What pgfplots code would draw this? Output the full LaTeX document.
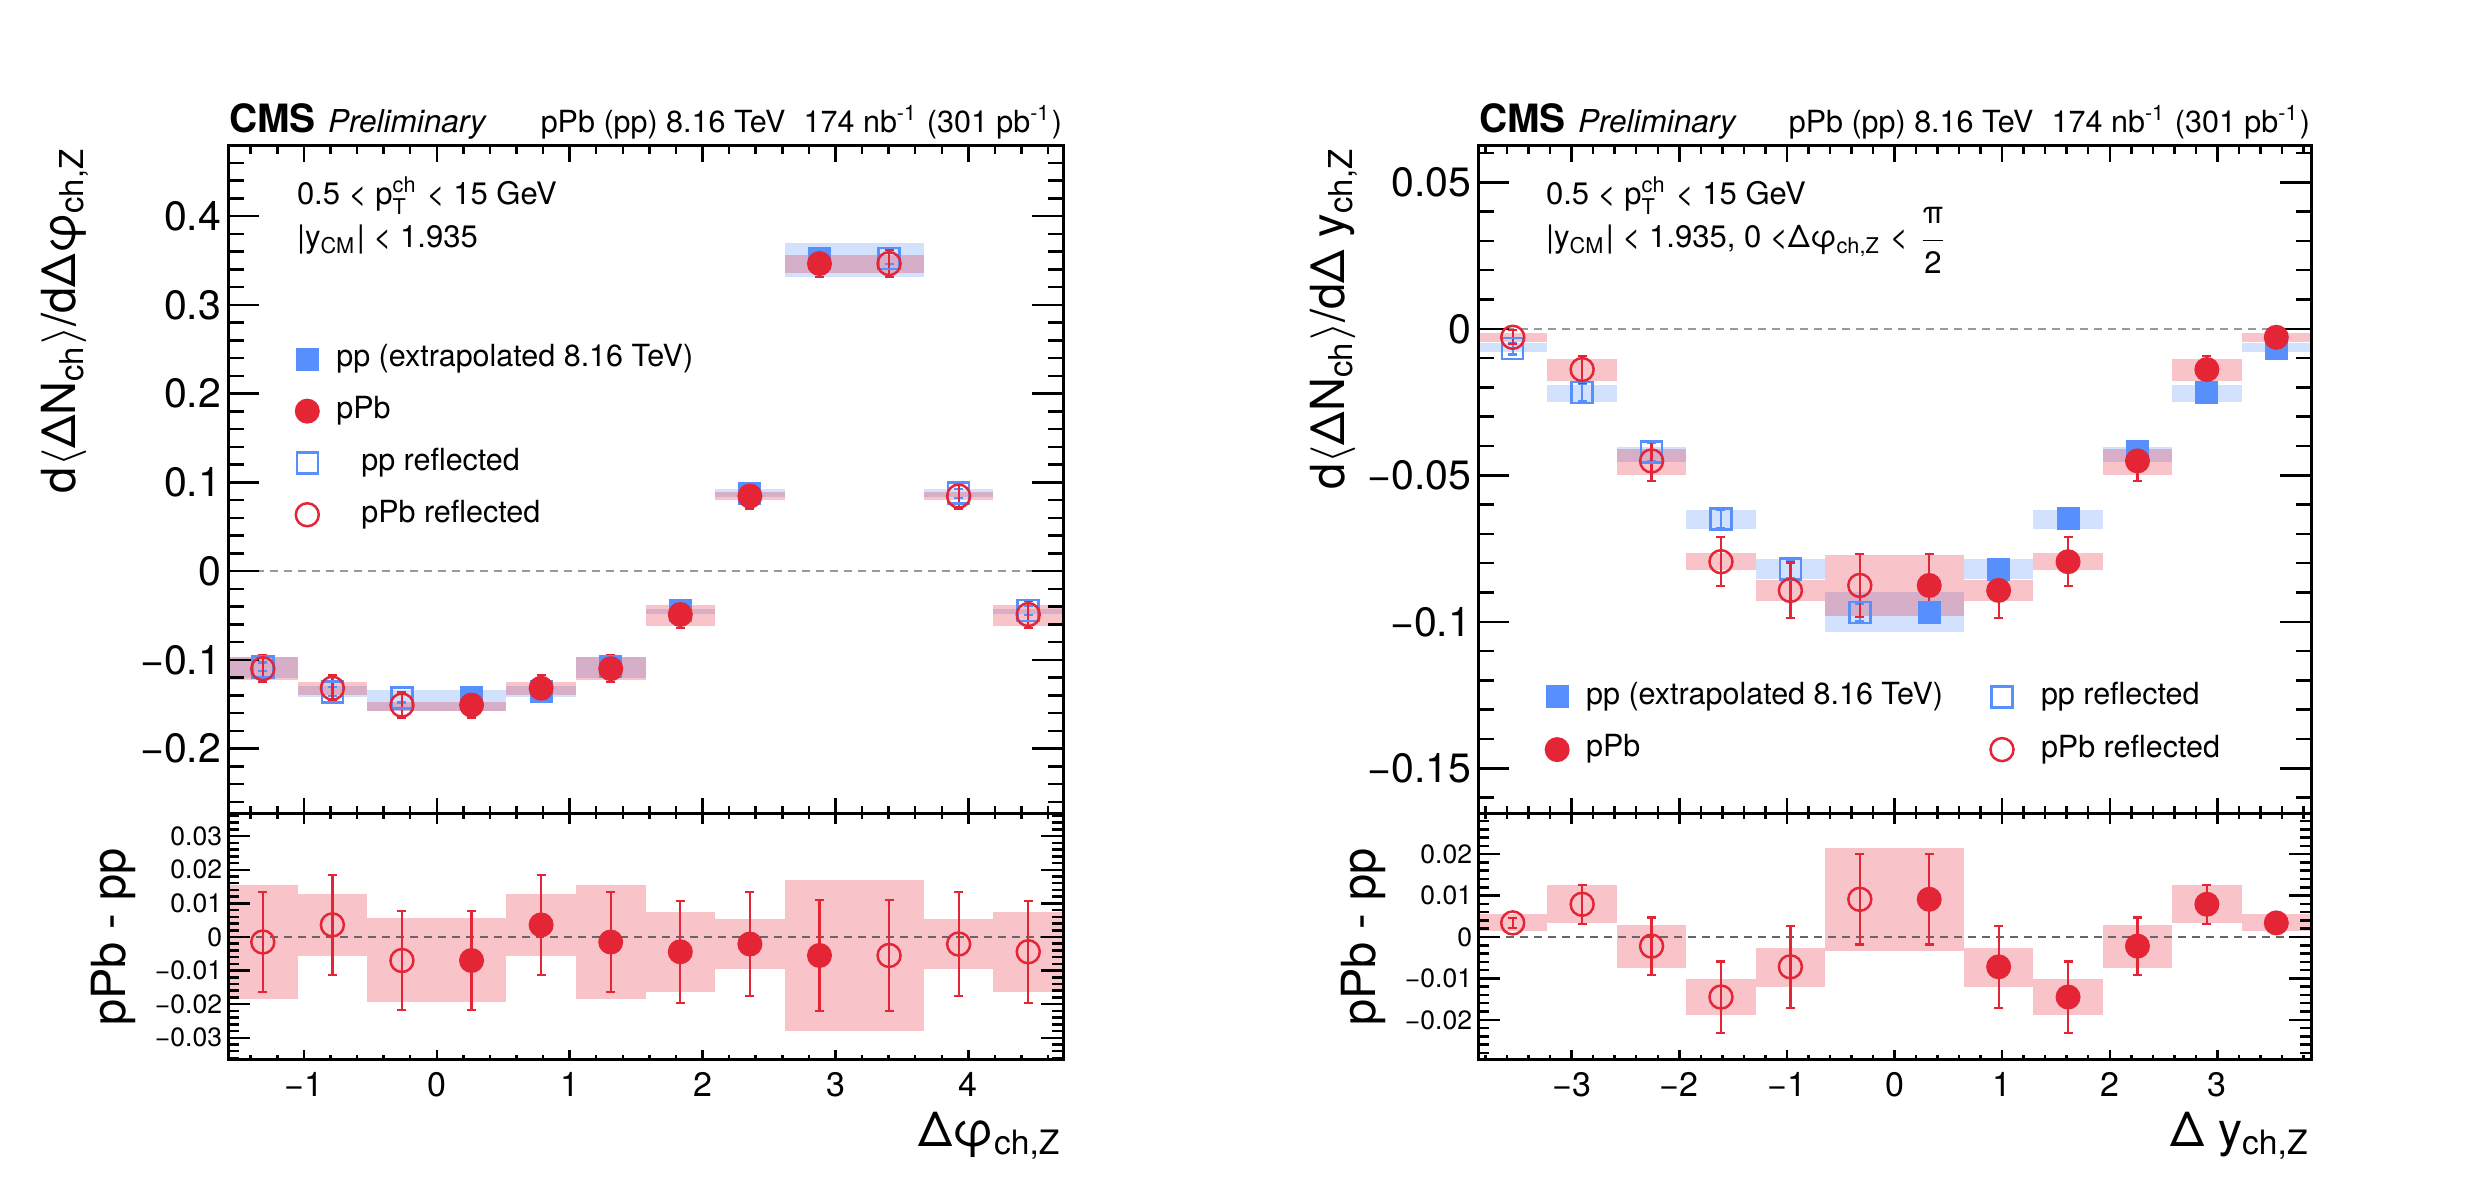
\documentclass[border=0pt]{standalone}
\usepackage{fontspec}
\setmainfont{TeX Gyre Heros}
\usepackage{amsmath}
\usepackage{pgfplots}
\pgfplotsset{compat=1.18}
\definecolor{ppblue}{HTML}{5790FC}
\definecolor{pbred}{HTML}{E42536}
\newcommand{\fs}[1]{\fontsize{#1}{#1}\selectfont}
\newcommand{\sysb}[5]{\addplot[forget plot, draw=none, fill=#1, fill opacity=0.27] coordinates {(#2,#4) (#3,#4) (#3,#5) (#2,#5)};}
\pgfplotsset{
  cms/.style={scale only axis, axis on top, tick align=inside,
    axis line style={line width=0.6pt}, tick style={black, line width=0.5pt},
    xtick pos=both, ytick pos=both, clip=true, scaled y ticks=false, scaled x ticks=false},
  ebar/.style={error bars/.cd, y dir=both, y explicit,
    error bar style={line width=0.45pt},
    error mark options={rotate=90, mark size=0.9pt, line width=0.45pt}},
  ppf/.style={only marks, mark=square*, mark size=2.1pt, color=ppblue, ebar},
  ppo/.style={only marks, mark=square, mark size=2.1pt, color=ppblue, mark options={line width=0.5pt}, ebar},
  pbf/.style={only marks, mark=*, mark size=2.3pt, color=pbred, ebar},
  pbo/.style={only marks, mark=o, mark size=2.3pt, color=pbred, mark options={line width=0.5pt}, ebar},
  limg/.style={legend image code/.code={\draw[##1] plot coordinates {(0pt,0pt)};}},
}
\begin{document}
\begin{tikzpicture}
\path[use as bounding box] (0,0) rectangle (497pt,237pt);

% ---------------- left top ----------------
\begin{axis}[cms, limg, at={(45.6pt,74.2pt)}, anchor=south west, width=167pt, height=133.6pt,
  xmin=-1.5708, xmax=4.7124, ymin=-0.2737, ymax=0.479,
  xtick={-1,0,1,2,3,4}, xticklabels=\empty, minor xtick={-1.4,-1.2,...,4.61},
  ytick={-0.2,-0.1,0,0.1,0.2,0.3,0.4}, yticklabels={−0.2,−0.1,0,0.1,0.2,0.3,0.4},
  minor ytick={-0.26,-0.24,...,0.47},
  major tick length=6.2pt, minor tick length=3.1pt,
  xtick style={/pgfplots/major tick length=3.2pt,/pgfplots/minor tick length=1.6pt},
  yticklabel style={font=\fs{8.2}, inner sep=0pt, xshift=-1.2pt},
  legend style={at={(0.080,0.708)}, anchor=north west, draw=none, fill=none, inner sep=0pt,
    font=\fs{6.1}, row sep=3.4pt, column sep=3pt, nodes={inner sep=0.5pt}},
  legend cell align=left]
\addplot[forget plot, color=black!40, line width=0.35pt, dash pattern=on 1.6pt off 1.2pt] coordinates {(-1.5708,0) (4.7124,0)};
\sysb{ppblue}{-1.5708}{-1.0472}{-0.121}{-0.0967}
\sysb{ppblue}{-1.0472}{-0.5236}{-0.142}{-0.1295}
\sysb{ppblue}{-0.5236}{0}{-0.158}{-0.134}
\sysb{ppblue}{0}{0.5236}{-0.158}{-0.134}
\sysb{ppblue}{0.5236}{1.0472}{-0.142}{-0.1295}
\sysb{ppblue}{1.0472}{1.5708}{-0.121}{-0.0967}
\sysb{ppblue}{1.5708}{2.0944}{-0.048}{-0.043}
\sysb{ppblue}{2.0944}{2.6180}{0.083}{0.0925}
\sysb{ppblue}{2.6180}{3.1416}{0.331}{0.370}
\sysb{ppblue}{3.1416}{3.6652}{0.331}{0.370}
\sysb{ppblue}{3.6652}{4.1888}{0.083}{0.0925}
\sysb{ppblue}{4.1888}{4.7124}{-0.048}{-0.043}
\sysb{pbred}{-1.5708}{-1.0472}{-0.123}{-0.0967}
\sysb{pbred}{-1.0472}{-0.5236}{-0.140}{-0.125}
\sysb{pbred}{-0.5236}{0}{-0.158}{-0.147}
\sysb{pbred}{0}{0.5236}{-0.158}{-0.147}
\sysb{pbred}{0.5236}{1.0472}{-0.140}{-0.125}
\sysb{pbred}{1.0472}{1.5708}{-0.123}{-0.0967}
\sysb{pbred}{1.5708}{2.0944}{-0.0616}{-0.038}
\sysb{pbred}{2.0944}{2.6180}{0.080}{0.0893}
\sysb{pbred}{2.6180}{3.1416}{0.336}{0.3565}
\sysb{pbred}{3.1416}{3.6652}{0.336}{0.3565}
\sysb{pbred}{3.6652}{4.1888}{0.080}{0.0893}
\sysb{pbred}{4.1888}{4.7124}{-0.0616}{-0.038}
\addplot[ppf] coordinates {(0.2618,-0.143) +- (0,0.005) (0.7854,-0.136) +- (0,0.005) (1.3090,-0.108) +- (0,0.005) (1.8326,-0.0445) +- (0,0.005) (2.3562,0.0877) +- (0,0.005) (2.8798,0.352) +- (0,0.006)};
\addlegendentry{pp (extrapolated 8.16 TeV)}
\addplot[pbf] coordinates {(0.2618,-0.151) +- (0,0.0148) (0.7854,-0.132) +- (0,0.0148) (1.3090,-0.110) +- (0,0.0148) (1.8326,-0.049) +- (0,0.015) (2.3562,0.0845) +- (0,0.0145) (2.8798,0.3465) +- (0,0.0149)};
\addlegendentry{pPb}
\addplot[ppo] coordinates {(-1.3090,-0.108) +- (0,0.005) (-0.7854,-0.136) +- (0,0.005) (-0.2618,-0.143) +- (0,0.005) (3.4034,0.352) +- (0,0.006) (3.9270,0.0877) +- (0,0.005) (4.4506,-0.0445) +- (0,0.005)};
\addlegendentry{\hspace{5pt}pp reflected}
\addplot[pbo] coordinates {(-1.3090,-0.110) +- (0,0.0148) (-0.7854,-0.132) +- (0,0.0148) (-0.2618,-0.151) +- (0,0.0148) (3.4034,0.3465) +- (0,0.0149) (3.9270,0.0845) +- (0,0.0145) (4.4506,-0.049) +- (0,0.015)};
\addlegendentry{\hspace{5pt}pPb reflected}
\end{axis}

% ---------------- left bottom ----------------
\begin{axis}[cms, at={(45.6pt,25pt)}, anchor=south west, width=167pt, height=49.2pt,
  xmin=-1.5708, xmax=4.7124, ymin=-0.0366, ymax=0.0366,
  xtick={-1,0,1,2,3,4}, xticklabels={−1,0,1,2,3,4}, minor xtick={-1.4,-1.2,...,4.61},
  ytick={-0.03,-0.02,-0.01,0,0.01,0.02,0.03}, yticklabels={−0.03,−0.02,−0.01,0,0.01,0.02,0.03},
  minor ytick={-0.036,-0.034,...,0.0361},
  major tick length=4.4pt, minor tick length=2.2pt,
  xtick style={/pgfplots/major tick length=2pt,/pgfplots/minor tick length=1pt},
  yticklabel style={font=\fs{5.3}, inner sep=0pt, xshift=-1pt},
  xticklabel style={font=\fs{6.8}, inner sep=0pt, yshift=-2.2pt}]
\sysb{pbred}{-1.5708}{-1.0472}{-0.0186}{0.0154}
\sysb{pbred}{-1.0472}{-0.5236}{-0.0057}{0.0127}
\sysb{pbred}{-0.5236}{0}{-0.0192}{0.0057}
\sysb{pbred}{0}{0.5236}{-0.0192}{0.0057}
\sysb{pbred}{0.5236}{1.0472}{-0.0057}{0.0127}
\sysb{pbred}{1.0472}{1.5708}{-0.0186}{0.0154}
\sysb{pbred}{1.5708}{2.0944}{-0.0163}{0.0074}
\sysb{pbred}{2.0944}{2.6180}{-0.0095}{0.0053}
\sysb{pbred}{2.6180}{3.1416}{-0.0281}{0.0169}
\sysb{pbred}{3.1416}{3.6652}{-0.0281}{0.0169}
\sysb{pbred}{3.6652}{4.1888}{-0.0095}{0.0053}
\sysb{pbred}{4.1888}{4.7124}{-0.0163}{0.0074}
\addplot[forget plot, color=black!60, line width=0.45pt, dash pattern=on 1.6pt off 1.2pt] coordinates {(-1.5708,0) (4.7124,0)};
\addplot[pbf] coordinates {(0.2618,-0.007) +- (0,0.0148) (0.7854,0.0036) +- (0,0.0149) (1.3090,-0.0015) +- (0,0.0148) (1.8326,-0.0044) +- (0,0.0152) (2.3562,-0.0021) +- (0,0.0154) (2.8798,-0.0055) +- (0,0.0166)};
\addplot[pbo] coordinates {(-1.3090,-0.0015) +- (0,0.0148) (-0.7854,0.0036) +- (0,0.0149) (-0.2618,-0.007) +- (0,0.0148) (3.4034,-0.0055) +- (0,0.0166) (3.9270,-0.0021) +- (0,0.0154) (4.4506,-0.0044) +- (0,0.0152)};
\end{axis}

% ---------------- right top ----------------
\begin{axis}[cms, limg, at={(295.6pt,74.2pt)}, anchor=south west, width=166.6pt, height=133.6pt,
  xmin=-3.87, xmax=3.87, ymin=-0.1656, ymax=0.0624,
  xtick={-3,-2,-1,0,1,2,3}, xticklabels=\empty, minor xtick={-3.8,-3.6,...,3.81},
  ytick={-0.15,-0.1,-0.05,0,0.05}, yticklabels={−0.15,−0.1,−0.05,0,0.05},
  minor ytick={-0.16,-0.15,...,0.061},
  major tick length=6.2pt, minor tick length=3.1pt,
  xtick style={/pgfplots/major tick length=3.2pt,/pgfplots/minor tick length=1.6pt},
  yticklabel style={font=\fs{8.2}, inner sep=0pt, xshift=-1.2pt},
  legend columns=2,
  legend style={at={(0.080,0.203)}, anchor=north west, draw=none, fill=none, inner sep=0pt,
    font=\fs{6.1}, row sep=3.6pt, column sep=3pt, nodes={inner sep=0.5pt},
    /tikz/every even column/.append style={column sep=9pt}},
  legend cell align=left]
\addplot[forget plot, color=black!40, line width=0.35pt, dash pattern=on 1.6pt off 1.2pt] coordinates {(-3.87,0) (3.87,0)};
\sysb{ppblue}{-3.87}{-3.225}{-0.0078}{-0.0049}
\sysb{ppblue}{-3.225}{-2.58}{-0.0249}{-0.0193}
\sysb{ppblue}{-2.58}{-1.935}{-0.0454}{-0.0405}
\sysb{ppblue}{-1.935}{-1.29}{-0.0685}{-0.0617}
\sysb{ppblue}{-1.29}{-0.645}{-0.0854}{-0.0785}
\sysb{ppblue}{-0.645}{0}{-0.1034}{-0.090}
\sysb{ppblue}{0}{0.645}{-0.1034}{-0.090}
\sysb{ppblue}{0.645}{1.29}{-0.0854}{-0.0785}
\sysb{ppblue}{1.29}{1.935}{-0.0685}{-0.0617}
\sysb{ppblue}{1.935}{2.58}{-0.0454}{-0.0405}
\sysb{ppblue}{2.58}{3.225}{-0.0249}{-0.0193}
\sysb{ppblue}{3.225}{3.87}{-0.0078}{-0.0049}
\sysb{pbred}{-3.87}{-3.225}{-0.0046}{-0.0015}
\sysb{pbred}{-3.225}{-2.58}{-0.0178}{-0.0102}
\sysb{pbred}{-2.58}{-1.935}{-0.0498}{-0.041}
\sysb{pbred}{-1.935}{-1.29}{-0.0824}{-0.0766}
\sysb{pbred}{-1.29}{-0.645}{-0.0929}{-0.0859}
\sysb{pbred}{-0.645}{0}{-0.098}{-0.0771}
\sysb{pbred}{0}{0.645}{-0.098}{-0.0771}
\sysb{pbred}{0.645}{1.29}{-0.0929}{-0.0859}
\sysb{pbred}{1.29}{1.935}{-0.0824}{-0.0766}
\sysb{pbred}{1.935}{2.58}{-0.0498}{-0.041}
\sysb{pbred}{2.58}{3.225}{-0.0178}{-0.0102}
\sysb{pbred}{3.225}{3.87}{-0.0046}{-0.0015}
\addplot[ppf] coordinates {(0.3225,-0.0968) +- (0,0.003) (0.9675,-0.082) +- (0,0.003) (1.6125,-0.0649) +- (0,0.003) (2.2575,-0.042) +- (0,0.003) (2.9025,-0.0217) +- (0,0.003) (3.5475,-0.0068) +- (0,0.002)};
\addlegendentry{pp (extrapolated 8.16 TeV)}
\addplot[ppo] coordinates {(-0.3225,-0.0968) +- (0,0.003) (-0.9675,-0.082) +- (0,0.003) (-1.6125,-0.0649) +- (0,0.003) (-2.2575,-0.042) +- (0,0.003) (-2.9025,-0.0217) +- (0,0.003) (-3.5475,-0.0068) +- (0,0.002)};
\addlegendentry{\hspace{2pt}pp reflected}
\addplot[pbf] coordinates {(0.3225,-0.0876) +- (0,0.0107) (0.9675,-0.0893) +- (0,0.0095) (1.6125,-0.0795) +- (0,0.0084) (2.2575,-0.0451) +- (0,0.0068) (2.9025,-0.0139) +- (0,0.0046) (3.5475,-0.0029) +- (0,0.0024)};
\addlegendentry{pPb}
\addplot[pbo] coordinates {(-0.3225,-0.0876) +- (0,0.0107) (-0.9675,-0.0893) +- (0,0.0095) (-1.6125,-0.0795) +- (0,0.0084) (-2.2575,-0.0451) +- (0,0.0068) (-2.9025,-0.0139) +- (0,0.0046) (-3.5475,-0.0029) +- (0,0.0024)};
\addlegendentry{\hspace{2pt}pPb reflected}
\end{axis}

% ---------------- right bottom ----------------
\begin{axis}[cms, at={(295.6pt,25pt)}, anchor=south west, width=166.6pt, height=49.2pt,
  xmin=-3.87, xmax=3.87, ymin=-0.0297, ymax=0.0297,
  xtick={-3,-2,-1,0,1,2,3}, xticklabels={−3,−2,−1,0,1,2,3}, minor xtick={-3.8,-3.6,...,3.81},
  ytick={-0.02,-0.01,0,0.01,0.02}, yticklabels={−0.02,−0.01,0,0.01,0.02},
  minor ytick={-0.028,-0.026,...,0.0281},
  major tick length=4.4pt, minor tick length=2.2pt,
  xtick style={/pgfplots/major tick length=2pt,/pgfplots/minor tick length=1pt},
  yticklabel style={font=\fs{5.3}, inner sep=0pt, xshift=-1pt},
  xticklabel style={font=\fs{6.8}, inner sep=0pt, yshift=-2.2pt}]
\sysb{pbred}{-3.87}{-3.225}{0.0014}{0.0055}
\sysb{pbred}{-3.225}{-2.58}{0.0033}{0.0126}
\sysb{pbred}{-2.58}{-1.935}{-0.0074}{0.0028}
\sysb{pbred}{-1.935}{-1.29}{-0.0188}{-0.0102}
\sysb{pbred}{-1.29}{-0.645}{-0.0121}{-0.0026}
\sysb{pbred}{-0.645}{0}{-0.0033}{0.0216}
\sysb{pbred}{0}{0.645}{-0.0033}{0.0216}
\sysb{pbred}{0.645}{1.29}{-0.0121}{-0.0026}
\sysb{pbred}{1.29}{1.935}{-0.0188}{-0.0102}
\sysb{pbred}{1.935}{2.58}{-0.0074}{0.0028}
\sysb{pbred}{2.58}{3.225}{0.0033}{0.0126}
\sysb{pbred}{3.225}{3.87}{0.0014}{0.0055}
\addplot[forget plot, color=black!60, line width=0.45pt, dash pattern=on 1.6pt off 1.2pt] coordinates {(-3.87,0) (3.87,0)};
\addplot[pbf] coordinates {(0.3225,0.0091) +- (0,0.0109) (0.9675,-0.0072) +- (0,0.0099) (1.6125,-0.0145) +- (0,0.0086) (2.2575,-0.0022) +- (0,0.0069) (2.9025,0.0079) +- (0,0.0047) (3.5475,0.0034) +- (0,0.0012)};
\addplot[pbo] coordinates {(-0.3225,0.0091) +- (0,0.0109) (-0.9675,-0.0072) +- (0,0.0099) (-1.6125,-0.0145) +- (0,0.0086) (-2.2575,-0.0022) +- (0,0.0069) (-2.9025,0.0079) +- (0,0.0047) (-3.5475,0.0034) +- (0,0.0012)};
\end{axis}

% ---------------- texts ----------------
\node[anchor=base west, inner sep=0pt] at (45.6pt,210.4pt) {\fs{7.8}\bfseries CMS};
\node[anchor=base west, inner sep=0pt] at (65.4pt,210.4pt) {\fs{6.3}\itshape Preliminary};
\node[anchor=base east, inner sep=0pt] at (212.6pt,210.4pt) {\fs{6.1}pPb (pp) 8.16 TeV\hspace{0.6em}174 nb$^{\text{-1}}$ (301 pb$^{\text{-1}}$)};
\node[anchor=base west, inner sep=0pt] at (295.6pt,210.4pt) {\fs{7.8}\bfseries CMS};
\node[anchor=base west, inner sep=0pt] at (315.4pt,210.4pt) {\fs{6.3}\itshape Preliminary};
\node[anchor=base east, inner sep=0pt] at (462.2pt,210.4pt) {\fs{6.1}pPb (pp) 8.16 TeV\hspace{0.6em}174 nb$^{\text{-1}}$ (301 pb$^{\text{-1}}$)};

\node[anchor=base west, inner sep=0pt] at (59.2pt,196pt) {\fs{6.2}0.5 < p$^{\text{ch}}_{\text{T}}$ < 15 GeV};
\node[anchor=base west, inner sep=0pt] at (59.2pt,187.4pt) {\fs{6.2}|y$_{\text{CM}}$| < 1.935};
\node[anchor=base west, inner sep=0pt] at (309pt,196pt) {\fs{6.2}0.5 < p$^{\text{ch}}_{\text{T}}$ < 15 GeV};
\node[anchor=base west, inner sep=0pt] at (309pt,187.4pt) {\fs{6.2}|y$_{\text{CM}}$| < 1.935, 0 <Δφ$_{\text{ch,Z}}$ < $\dfrac{\text{π}}{\text{2}}$};

\node[rotate=90, anchor=base east, inner sep=0pt] at (15pt,207.8pt) {\fs{9.4}d$\langle$ΔN$_{\text{ch}}\rangle$/dΔφ$_{\text{ch,Z}}$};
\node[rotate=90, anchor=base east, inner sep=0pt] at (268.8pt,207.8pt) {\fs{9.4}d$\langle$ΔN$_{\text{ch}}\rangle$/dΔ y$_{\text{ch,Z}}$};
\node[rotate=90, anchor=base, inner sep=0pt] at (25pt,49.6pt) {\fs{9.4}pPb - pp};
\node[rotate=90, anchor=base, inner sep=0pt] at (275pt,49.6pt) {\fs{9.4}pPb - pp};

\node[anchor=base east, inner sep=0pt] at (212.6pt,7.6pt) {\fs{9.6}Δφ$_{\text{ch,Z}}$};
\node[anchor=base east, inner sep=0pt] at (462.2pt,7.6pt) {\fs{9.6}Δ y$_{\text{ch,Z}}$};
\end{tikzpicture}
\end{document}
